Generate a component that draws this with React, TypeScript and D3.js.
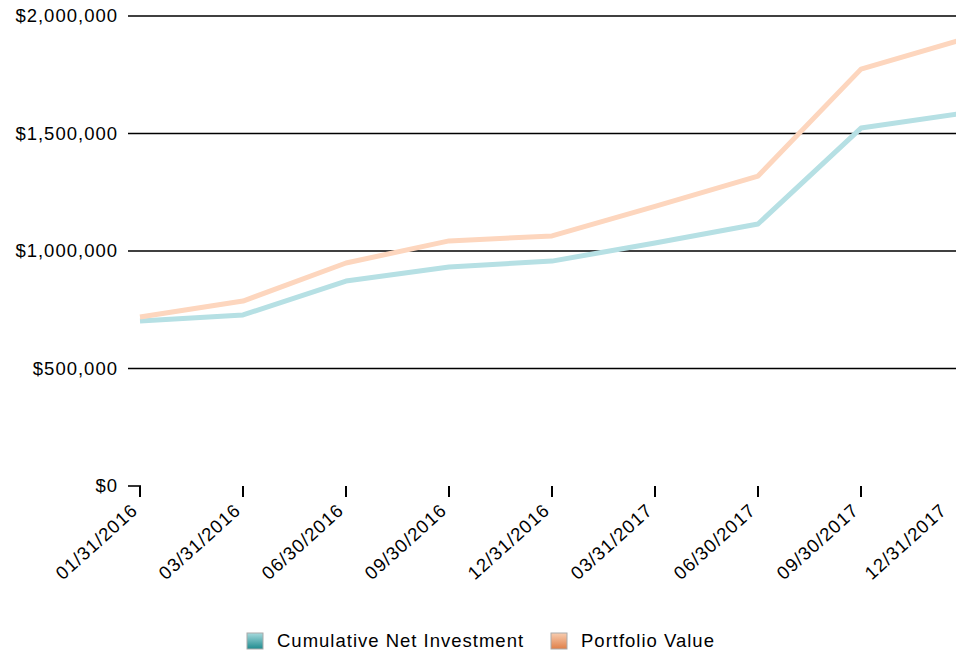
import React, { useEffect, useRef } from "react";
import * as d3 from "d3";

const dates = [
  "01/31/2016",
  "03/31/2016",
  "06/30/2016",
  "09/30/2016",
  "12/31/2016",
  "03/31/2017",
  "06/30/2017",
  "09/30/2017",
  "12/31/2017",
];
const netInvestment = [702000, 728000, 872000, 932000, 957000, 1034000, 1115000, 1523000, 1587000];
const portfolioValue = [719000, 787000, 949000, 1043000, 1064000, 1190000, 1319000, 1774000, 1902000];
const yTicks = [0, 500000, 1000000, 1500000, 2000000];

const series = [
  { name: "Cumulative Net Investment", values: netInvestment, line: "#b6e0e4", top: "#a6dadd", bottom: "#1f8b8f" },
  { name: "Portfolio Value", values: portfolioValue, line: "#fdd6be", top: "#f8cdb0", bottom: "#e07f48" },
];

const App = () => {
  const ref = useRef<SVGSVGElement>(null);

  useEffect(() => {
    const width = 956;
    const height = 654;
    const font = "'Liberation Sans', Arial, sans-serif";

    const svg = d3.select(ref.current);
    svg.selectAll("*").remove();
    svg.attr("width", width).attr("height", height);

    const x = d3.scalePoint<string>().domain(dates).range([140, 964]);
    const y = d3.scaleLinear().domain([0, 2000000]).range([486, 16]);
    const fmt = (v: number) => "$" + d3.format(",")(v);

    const textStyle = (sel: any) =>
      sel
        .style("font-family", font)
        .style("font-size", "18.5px")
        .style("letter-spacing", "1px")
        .attr("fill", "#000");

    const defs = svg.append("defs");
    series.forEach((s, i) => {
      const g = defs
        .append("linearGradient")
        .attr("id", "sw" + i)
        .attr("x1", 0)
        .attr("y1", 0)
        .attr("x2", 0)
        .attr("y2", 1);
      g.append("stop").attr("offset", "0%").attr("stop-color", s.top);
      g.append("stop").attr("offset", "100%").attr("stop-color", s.bottom);
    });

    // grid lines
    svg
      .append("g")
      .selectAll("line")
      .data(yTicks)
      .enter()
      .append("line")
      .attr("x1", 128)
      .attr("x2", (d) => (d === 0 ? 141 : width))
      .attr("y1", (d) => y(d))
      .attr("y2", (d) => y(d))
      .attr("stroke", "#000")
      .attr("stroke-width", 1.6);

    svg
      .append("g")
      .selectAll("text")
      .data(yTicks)
      .enter()
      .append("text")
      .attr("x", 118)
      .attr("y", (d) => y(d))
      .attr("dy", "0.35em")
      .attr("text-anchor", "end")
      .call(textStyle)
      .text((d) => fmt(d));

    // x ticks
    svg
      .append("g")
      .selectAll("line")
      .data(dates)
      .enter()
      .append("line")
      .attr("x1", (d) => x(d)!)
      .attr("x2", (d) => x(d)!)
      .attr("y1", 486)
      .attr("y2", 497)
      .attr("stroke", "#000")
      .attr("stroke-width", 2);

    // last label pulled in so it stays inside the frame
    svg
      .append("g")
      .selectAll("text")
      .data(dates)
      .enter()
      .append("text")
      .attr("transform", (d) => `translate(${Math.min(x(d)! - 1, 948)},${512}) rotate(-42)`)
      .attr("text-anchor", "end")
      .call(textStyle)
      .text((d) => d);

    // lines
    const line = d3
      .line<number>()
      .x((d, i) => x(dates[i])!)
      .y((d) => y(d));

    series.forEach((s) => {
      svg
        .append("path")
        .datum(s.values)
        .attr("d", line)
        .attr("fill", "none")
        .attr("stroke", s.line)
        .attr("stroke-width", 5)
        .attr("stroke-linejoin", "round");
    });

    // legend
    const legendX = [247, 551];
    const lg = svg
      .append("g")
      .selectAll("g")
      .data(series)
      .enter()
      .append("g")
      .attr("transform", (d, i) => `translate(${legendX[i]},633)`);
    lg.append("rect")
      .attr("width", 16)
      .attr("height", 16)
      .attr("fill", (d, i) => `url(#sw${i})`)
      .attr("stroke", "#aaa")
      .attr("stroke-width", 1);
    lg.append("text")
      .attr("x", 30)
      .attr("y", 8)
      .attr("dy", "0.35em")
      .call(textStyle)
      .text((d) => d.name);
  }, []);

  return (
    <svg
      ref={ref}
      style={{ position: "absolute", left: 0, top: 0, display: "block" }}
    ></svg>
  );
};

export default App;
